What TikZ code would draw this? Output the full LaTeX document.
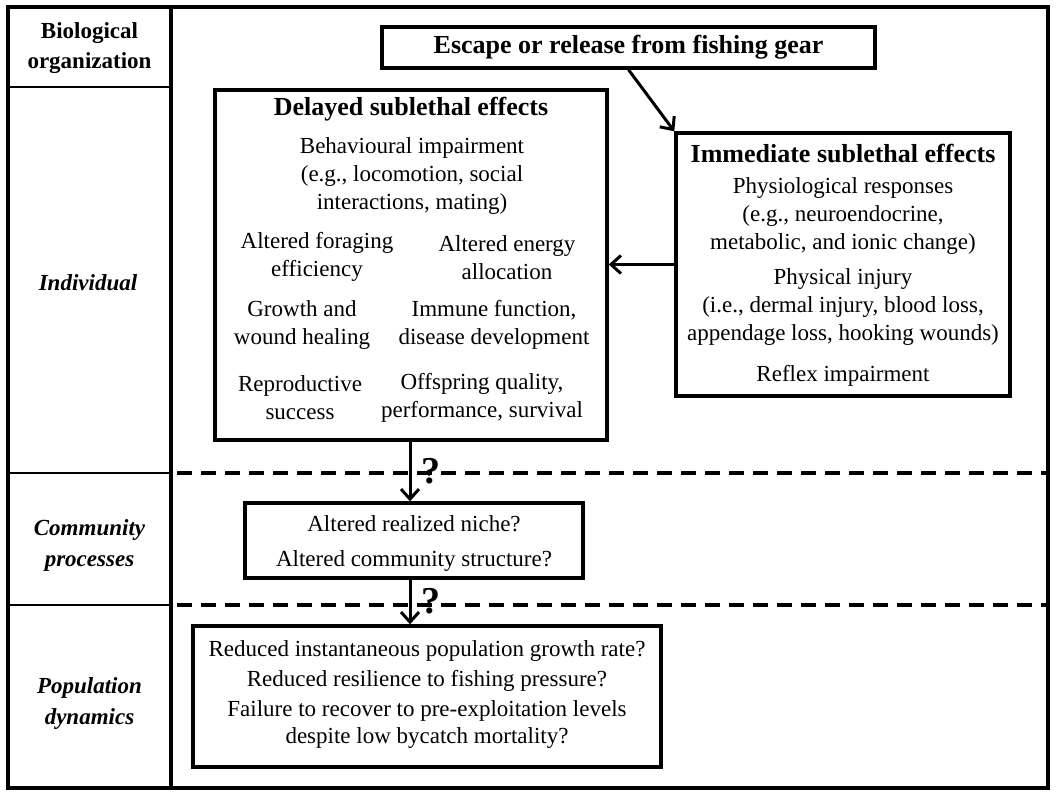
\documentclass[tikz,border=0pt]{standalone}
\usepackage{fontspec}
\setmainfont{Liberation Serif}
\usepackage{tikz}
\usetikzlibrary{arrows.meta, positioning}

\begin{document}
\begin{tikzpicture}[
  x=1pt, y=-1pt,
  box/.style={draw, line width=3.4pt, inner sep=0pt},
  txt/.style={font=\fontsize{23}{28}\selectfont, align=center, inner sep=0pt},
  ttl/.style={font=\fontsize{26}{30}\selectfont\bfseries, inner sep=0pt},
  lvl/.style={font=\fontsize{23}{31}\selectfont\bfseries\itshape, align=center, inner sep=0pt},
  qm/.style={font=\fontsize{38}{38}\selectfont\bfseries, inner sep=0pt},
  edge/.style={-{Straight Barb[length=10pt,width=18pt,line width=3pt]}, line width=3pt},
  sep/.style={dash pattern=on 15pt off 9pt, line width=3.4pt}
]
\useasboundingbox (0,0) rectangle (1058,796);

\draw[line width=3.6pt] (8,7) rectangle (1048,788);
\draw[line width=3.2pt] (171,7) -- (171,788);
\draw[line width=2.6pt] (8,87) -- (171,87);
\draw[line width=2.6pt] (8,473) -- (171,473);
\draw[line width=2.6pt] (8,605) -- (171,605);
\draw[sep] (177,473) -- (1048,473);
\draw[sep] (177,605) -- (1048,605);

\node[lvl, font=\fontsize{23}{30}\selectfont\bfseries] (biol) at (89.5,48) {Biological\\organization};
\node[lvl] (indiv) at (88,283) {Individual};
\node[lvl] (commu) at (89.5,545) {Community\\processes};
\node[lvl] (popul) at (89.5,703) {Population\\dynamics};

\node[box, minimum width=493pt, minimum height=41pt] (esc) at (628.5,47.5) {};
\node[ttl] (esct) at (esc) {Escape or release from fishing gear};

\node[box, minimum width=392pt, minimum height=350pt] (del) at (411,265) {};
\node[ttl] (delt) at (411,109) {Delayed sublethal effects};
\node[txt] (d1) at (412,176) {Behavioural impairment\\(e.g., locomotion, social\\interactions, mating)};
\node[txt] (d2) at (317,257) {Altered foraging\\efficiency};
\node[txt] (d3) at (507,258) {Altered energy\\allocation};
\node[txt] (d4) at (302,325) {Growth and\\wound healing};
\node[txt] (d5) at (494,325) {Immune function,\\disease development};
\node[txt] (d6) at (300,398) {Reproductive\\success};
\node[txt] (d7) at (482,398) {Offspring quality,\\performance, survival};

\node[box, minimum width=334pt, minimum height=263pt] (imm) at (843,264.5) {};
\node[ttl] (immt) at (843,153) {Immediate sublethal effects};
\node[txt] (i1) at (843,216) {Physiological responses\\(e.g., neuroendocrine,\\metabolic, and ionic change)};
\node[txt] (i2) at (843,307) {Physical injury\\(i.e., dermal injury, blood loss,\\appendage loss, hooking wounds)};
\node[txt] (i3) at (843,376) {Reflex impairment};

\node[box, minimum width=338pt, minimum height=75pt] (com) at (414,540.5) {};
\node[txt] (c1) at (414,524) {Altered realized niche?};
\node[txt] (c2) at (414,561) {Altered community structure?};

\node[box, minimum width=468pt, minimum height=141pt] (pop) at (427,696.5) {};
\node[txt] (p1) at (427,651) {Reduced instantaneous population growth rate?};
\node[txt] (p2) at (427,681) {Reduced resilience to fishing pressure?};
\node[txt, font=\fontsize{23}{27}\selectfont] (p3) at (427,724.5) {Failure to recover to pre-exploitation levels\\despite low bycatch mortality?};

\node[qm] (q1) at (431,471) {?};
\node[qm] (q2) at (431,601) {?};

\draw[edge] (esc.south) -- (imm.north west);
\draw[edge] (imm.west) -- (imm.west -| del.east);
\draw[edge] ([xshift=-1pt]del.south) -- ([xshift=-1pt]del.south |- com.north);
\draw[edge] ([xshift=-1pt]del.south |- com.south) -- ([xshift=-1pt]del.south |- pop.north);
\end{tikzpicture}
\end{document}
